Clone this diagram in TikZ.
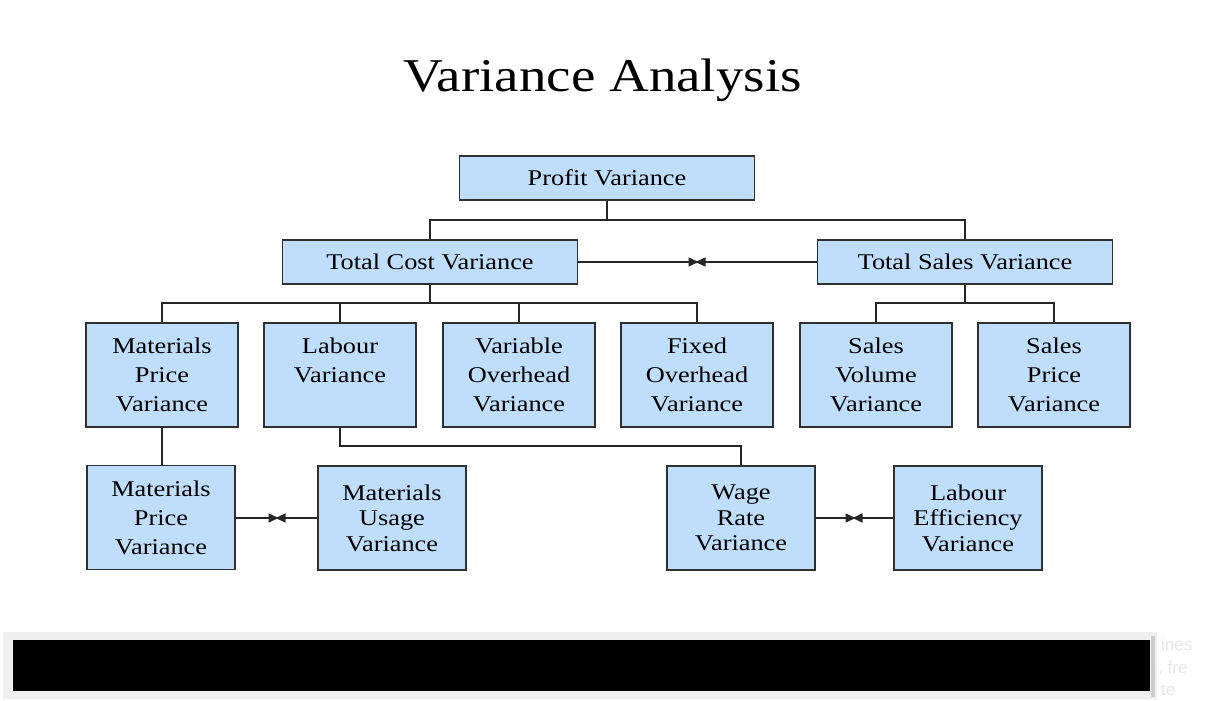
\documentclass[tikz,border=0pt]{standalone}
\usepackage{fontspec}
\setmainfont{Liberation Serif}[FakeStretch=1.17]
\newfontfamily\fadedsans{Liberation Sans}
\usetikzlibrary{arrows.meta}
\definecolor{boxblue}{HTML}{BFDEFB}
\definecolor{boxline}{HTML}{303030}
\definecolor{framegray}{HTML}{EFEFEF}
\tikzset{
  vbox/.style={draw=boxline, line width=1.6pt, fill=boxblue, inner sep=0pt, align=center,
    font=\fontsize{22.5}{29}\selectfont},
  widebox/.style={vbox, minimum width=295pt, minimum height=44pt},
  midbox/.style={vbox, minimum width=152pt, minimum height=104pt},
  lowbox/.style={vbox, minimum width=148pt, minimum height=104pt},
  tight/.style={font=\fontsize{22.5}{25.5}\selectfont},
  conn/.style={draw=black!85, line width=1.5pt},
  bow/.style={conn, shorten >=-1.5pt, -{Triangle[length=10pt,width=9pt]}},
}
\begin{document}
\begin{tikzpicture}[x=1pt,y=-1pt]
\useasboundingbox (0,0) rectangle (1205,701);
% title
\node[anchor=base, font=\fontsize{47}{50}\selectfont] (title) at (602.5,92) {Variance Analysis};
% level 1
\node[widebox] (pv) at (607,178) {Profit Variance};
% level 2
\node[widebox] (tcv) at (430,262) {Total Cost Variance};
\node[widebox] (tsv) at (965,262) {Total Sales Variance};
% level 3
\node[midbox] (mpv) at (162,375) {Materials\\Price\\Variance};
\node[midbox] (lv)  at (340,375) {Labour\\Variance\\\phantom{Variance}};
\node[midbox] (vov) at (519,375) {Variable\\Overhead\\Variance};
\node[midbox] (fov) at (697,375) {Fixed\\Overhead\\Variance};
\node[midbox] (svv) at (876,375) {Sales\\Volume\\Variance};
\node[midbox] (spv) at (1054,375) {Sales\\Price\\Variance};
% level 4
\node[lowbox] (mpv2) at (161,517.5) {Materials\\Price\\Variance};
\node[lowbox, tight] (muv) at (392,518) {Materials\\Usage\\Variance};
\node[lowbox, tight] (wrv) at (741,518) {Wage\\Rate\\Variance};
\node[lowbox, tight] (lev) at (968,518) {Labour\\Efficiency\\Variance};
% junctions
\coordinate (j1) at (607,220);
\coordinate (j2) at (430,303);
\coordinate (j3) at (965,303);
\coordinate (j4) at (741,446);
\coordinate (b1) at (697,262);
\coordinate (b2) at (277,518);
\coordinate (b3) at (854,518);
% connectors
\draw[conn] (pv.south) -- (j1);
\draw[conn] (tcv.north) |- (j1) -| (tsv.north);
\draw[conn] (tcv.south) -- (j2);
\draw[conn] (mpv.north) |- (j2) -| (fov.north);
\draw[conn] (lv.north) -- (lv.north |- j2);
\draw[conn] (vov.north) -- (vov.north |- j2);
\draw[conn] (tsv.south) -- (j3);
\draw[conn] (svv.north) |- (j3) -| (spv.north);
\draw[conn] (mpv.south) -- (mpv.south |- mpv2.north);
\draw[conn] (lv.south) |- (j4) -- (wrv.north);
\draw[bow] (tcv.east) -- (b1);
\draw[bow] (tsv.west) -- (b1);
\draw[bow] (mpv2.east |- b2) -- (b2);
\draw[bow] (muv.west) -- (b2);
\draw[bow] (wrv.east) -- (b3);
\draw[bow] (lev.west) -- (b3);
% bottom bar
\fill[framegray] (3,632) rectangle (1157,699);
\fill[black!20] (1151,636) rectangle (1155,697);
\fill[black] (13,640) rectangle (1150,691);
% faded text fragments
\begin{scope}[font=\fadedsans\fontsize{17}{20}\selectfont, text=black!10]
\node[anchor=base west, inner sep=0pt] (f1) at (1161,650) {ines};
\node[anchor=base west, inner sep=0pt] (f2) at (1158,673) {, fre};
\node[anchor=base west, inner sep=0pt] (f3) at (1161,695) {te};
\end{scope}
\end{tikzpicture}
\end{document}
